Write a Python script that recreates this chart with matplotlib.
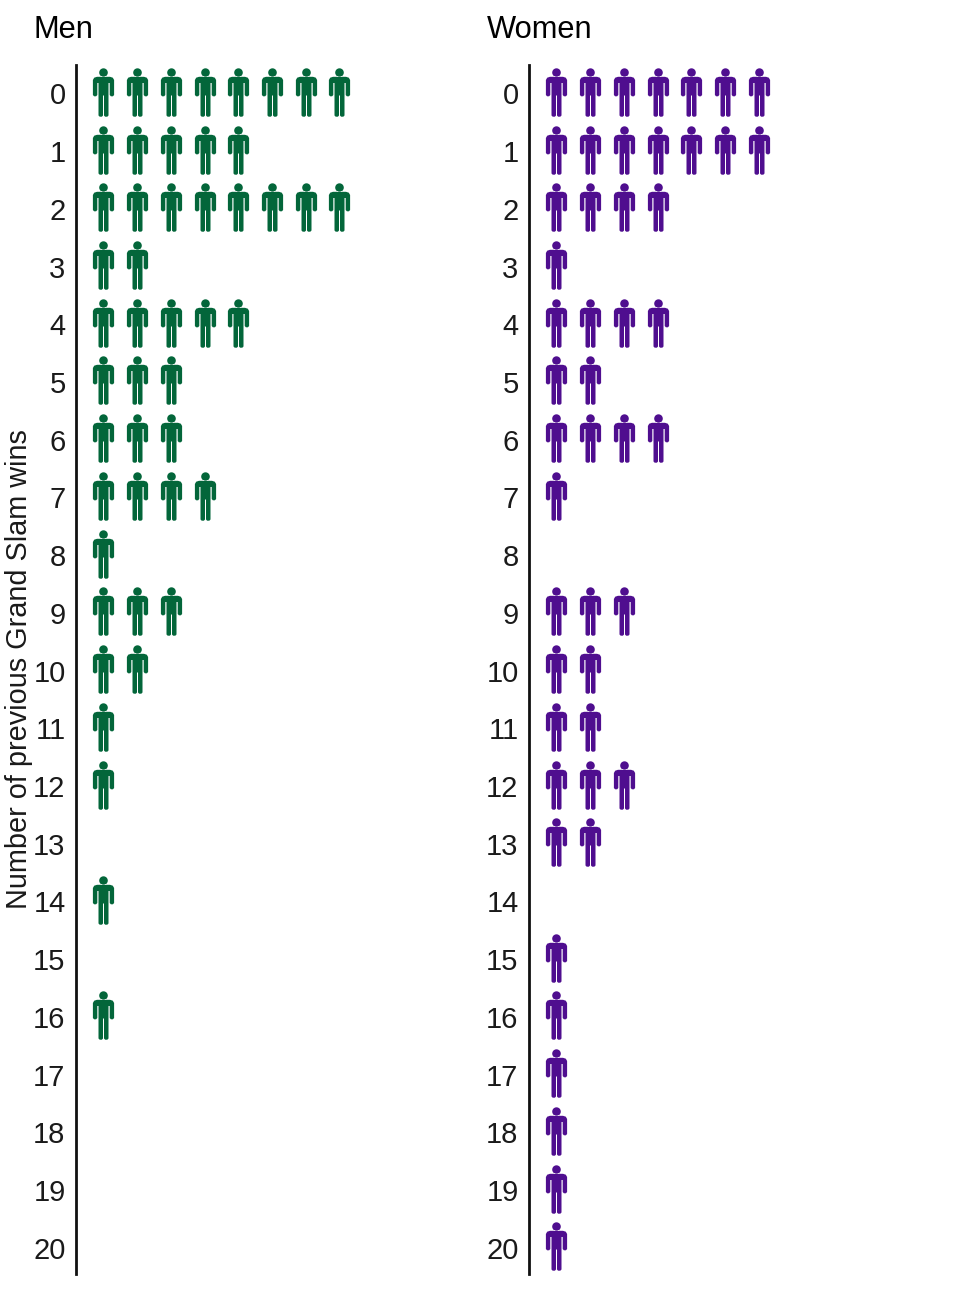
import numpy as np
import matplotlib
matplotlib.use("Agg")
import matplotlib.pyplot as plt
from matplotlib.path import Path
from matplotlib.transforms import ScaledTranslation

plt.rcParams['font.family'] = ['Liberation Sans', 'DejaVu Sans']

# ===== data =====
wins = list(range(21))
men_counts = [8, 5, 8, 2, 5, 3, 3, 4, 1, 3, 2, 1, 1, 0, 1, 0, 1, 0, 0, 0, 0]
women_counts = [7, 7, 4, 1, 4, 2, 4, 1, 0, 3, 2, 2, 3, 2, 0, 1, 1, 1, 1, 1, 1]

GREEN = '#03663a'
PURPLE = '#4f0e8f'
TEXT = '#1a1a1a'


def person_marker():
    """person icon, coordinates in pixels around the icon centre, y up"""
    body = [
        (-6.5, 15.7), (6.5, 15.7), (9.3, 14.8), (10.6, 12.5), (10.6, -2.5), (9.4, -3.8), (7.4, -3.8), (6.2, -2.5),
        (6.2, 9.5), (5.0, 9.5), (5.0, -23), (3.8, -24.2), (1.6, -24.2), (0.5, -23), (0.5, -3),
        (-0.5, -3), (-0.5, -23), (-1.6, -24.2), (-3.8, -24.2), (-5.0, -23), (-5.0, 9.5), (-6.2, 9.5),
        (-6.2, -2.5), (-7.4, -3.8), (-9.4, -3.8), (-10.6, -2.5), (-10.6, 12.5), (-9.3, 14.8), (-6.5, 15.7),
    ]
    body_path = Path(body, closed=True)
    head = Path.circle((0, 19.9), 4.3)
    return Path.make_compound_path(body_path, head)


PERSON = person_marker()
MARKER_SIZE = 48.4 * 72 / 100  # icon height in points


def draw_panel(ax, counts, colour, title):
    for row, n in zip(wins, counts):
        if n == 0:
            continue
        xs = np.arange(n)
        ax.plot(xs, [row] * n, ls='none', marker=PERSON, ms=MARKER_SIZE,
                mfc=colour, mec='none', clip_on=False)
    ax.set_xlim(-0.816, 9.985)
    ax.set_ylim(20.48, -0.465)
    ax.set_xticks([])
    ax.set_yticks(wins)
    ax.set_yticklabels(wins, fontsize=21, color=TEXT, va='center')
    ax.tick_params(axis='y', length=0, pad=7.5)
    # labels sit a bit below the icon centres
    shift = ScaledTranslation(0, -4.5 / 100, fig.dpi_scale_trans)
    for lab in ax.get_yticklabels():
        lab.set_transform(lab.get_transform() + shift)
    for side in ['top', 'right', 'bottom']:
        ax.spines[side].set_visible(False)
    ax.spines['left'].set_linewidth(2)
    ax.spines['left'].set_color('#111111')
    ax.text(-42 / 364, 1 + 27.5 / 1209, title, transform=ax.transAxes, fontsize=22.2,
            color='black', ha='left', va='baseline')


W, H = 976, 1290
fig = plt.figure(figsize=(W / 100, H / 100), dpi=100)
top, bottom = 65, 1274
ax_m = fig.add_axes([76 / W, 1 - bottom / H, 364 / W, (bottom - top) / H])
ax_w = fig.add_axes([529 / W, 1 - bottom / H, 364 / W, (bottom - top) / H])

draw_panel(ax_m, men_counts, GREEN, 'Men')
draw_panel(ax_w, women_counts, PURPLE, 'Women')

fig.text(19 / W, 1 - 669 / H, 'Number of previous Grand Slam wins', rotation=90,
         fontsize=20.8, color=TEXT, ha='center', va='center')

fig.savefig('out.png', dpi=100)
